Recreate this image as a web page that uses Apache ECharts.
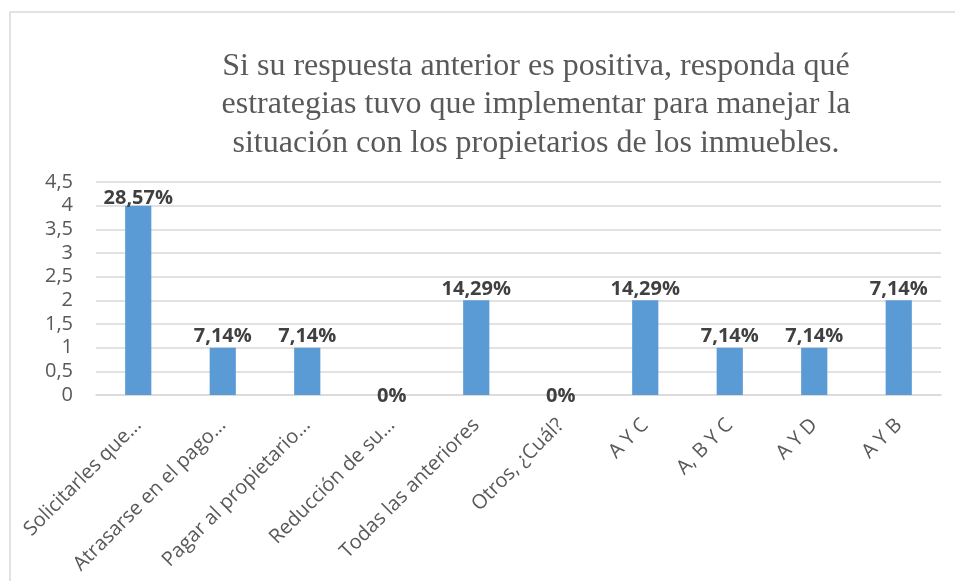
<!DOCTYPE html>
<html>
<head>
<meta charset="utf-8">
<script src="https://cdn.jsdelivr.net/npm/echarts@6/dist/echarts.min.js"></script>
<style>html,body{margin:0;padding:0;background:#fff;}#c{width:955px;height:581px;}</style>
</head>
<body>
<div id="c"></div>
<script>
var titleText = 'Si su respuesta anterior es positiva, responda qué\nestrategias tuvo que implementar para manejar la\nsituación con los propietarios de los inmuebles.';
var categories = ['Solicitarles que...', 'Atrasarse en el pago...', 'Pagar al propietario...', 'Reducción de su...', 'Todas las anteriores', 'Otros, ¿Cuál?', 'A Y C', 'A, B Y C', 'A Y D', 'A Y B'];
var values = [4, 1, 1, 0, 2, 0, 2, 1, 1, 2];
var labels = ['28,57%', '7,14%', '7,14%', '0%', '14,29%', '0%', '14,29%', '7,14%', '7,14%', '7,14%'];
var yTicks = ['0', '0,5', '1', '1,5', '2', '2,5', '3', '3,5', '4', '4,5'];

var chart = echarts.init(document.getElementById('c'), null, {renderer: 'canvas'});
var data = values.map(function (v, i) {
  var item = {value: v, label: {formatter: labels[i]}};
  if (v === 0) item.label.offset = [0, 12];
  if (v === 4) item.label.offset = [0, 4];
  return item;
});
chart.setOption({
  animation: false,
  backgroundColor: '#fff',
  title: {
    text: titleText,
    left: 531,
    top: 42,
    textAlign: 'center',
    textStyle: {fontFamily: 'Liberation Serif', fontWeight: 'normal', fontSize: 32, lineHeight: 38.5, color: '#595959'}
  },
  graphic: [{
    type: 'rect', shape: {x: 10, y: 12, width: 960, height: 600},
    style: {fill: 'none', stroke: '#d9d9d9', lineWidth: 1.5}, silent: true
  }],
  grid: {left: 96, right: 14, top: 182, bottom: 186},
  xAxis: {
    type: 'category', data: categories,
    axisLine: {lineStyle: {color: '#d9d9d9', width: 1.5}},
    axisTick: {show: false},
    axisLabel: {rotate: 45, interval: 0, margin: 27, color: '#595959', fontFamily: 'Open Sans', fontSize: 20}
  },
  yAxis: {
    type: 'value', min: 0, max: 4.5, interval: 0.5,
    axisLine: {show: false}, axisTick: {show: false},
    splitLine: {lineStyle: {color: '#d9d9d9', width: 1.5}},
    axisLabel: {
      margin: 23, color: '#595959', fontFamily: 'Open Sans', fontSize: 20,
      formatter: function (v) { return yTicks[Math.round(v * 2)]; }
    }
  },
  series: [{
    type: 'bar', data: data, barWidth: '31%',
    itemStyle: {color: '#5b9bd5'},
    label: {show: true, position: 'top', distance: 1, color: '#404040', fontFamily: 'Open Sans', fontWeight: 'bold', fontSize: 20}
  }]
});
</script>
</body>
</html>
